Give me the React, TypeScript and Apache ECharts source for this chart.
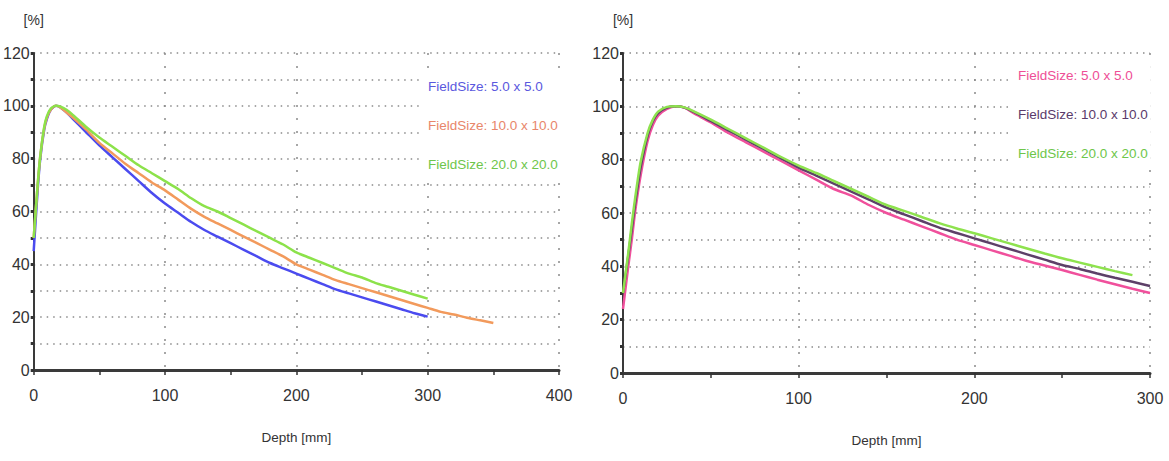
import React, { useEffect, useRef } from "react";
import * as echarts from "echarts";

// ---------- Left chart (depth in mm, dose in %) ----------
const depthL5 = [0, 3, 5, 8, 10, 13, 17, 20, 25, 30, 40, 50, 60, 70, 80, 90, 100, 110, 120, 130, 140, 150, 160, 170, 180, 190, 200, 210, 220, 230, 240, 250, 260, 270, 280, 290, 300];
const doseL5 = [45, 68, 80, 91, 95, 98.5, 100, 99.5, 97.5, 95, 90, 85, 80.5, 76, 71.5, 67, 63, 59.5, 56, 53, 50.5, 48, 45.5, 43, 40.5, 38.5, 36.5, 34.5, 32.5, 30.5, 29, 27.5, 26, 24.5, 23, 21.5, 20.2];

const depthL10 = [0, 3, 5, 8, 10, 13, 17, 20, 25, 30, 40, 50, 60, 70, 80, 90, 100, 110, 120, 130, 140, 150, 160, 170, 180, 190, 200, 210, 220, 230, 240, 250, 260, 270, 280, 290, 300, 310, 320, 330, 340, 350];
const doseL10 = [50, 70, 81, 91.5, 95.5, 98.5, 100, 99.5, 97.5, 95.5, 91, 86, 82, 78, 74.5, 71, 68, 64.5, 61, 58, 55.5, 53, 50.5, 48, 45.5, 43, 40, 38, 36, 34, 32.5, 31, 29.5, 28, 26.5, 25, 23.5, 22, 21, 19.8, 18.8, 17.8];

const depthL20 = [0, 3, 5, 8, 10, 13, 17, 20, 25, 30, 40, 50, 60, 70, 80, 90, 100, 110, 120, 130, 140, 150, 160, 170, 180, 190, 200, 210, 220, 230, 240, 250, 260, 270, 280, 290, 300];
const doseL20 = [50, 70, 81, 92, 96, 99, 100, 99.8, 98.5, 96.5, 92, 88, 84.5, 81, 77.5, 74.5, 71.5, 68.5, 65, 62, 60, 57.5, 55, 52.5, 50, 47.5, 44.5, 42.5, 40.5, 38.5, 36.5, 35, 33, 31.5, 30, 28.5, 27];

// ---------- Right chart ----------
const depthR5 = [0, 3, 5, 7, 10, 14, 17, 20, 25, 30, 35, 40, 50, 60, 70, 80, 90, 100, 110, 120, 130, 140, 150, 160, 170, 180, 190, 200, 210, 220, 230, 240, 250, 260, 270, 280, 290, 300];
const doseR5 = [24, 40, 50, 61, 74, 87, 93, 96.5, 99, 100, 99.5, 97.5, 94, 90, 86.5, 83, 79.5, 76, 72.5, 69, 66.5, 63, 60, 57.5, 55, 52.5, 50, 48, 46, 44, 42, 40.3, 38.6, 36.8, 35, 33.3, 31.6, 30];

const depthR10 = [0, 3, 5, 7, 10, 14, 17, 20, 25, 30, 35, 40, 50, 60, 70, 80, 90, 100, 110, 120, 130, 140, 150, 160, 170, 180, 190, 200, 210, 220, 230, 240, 250, 260, 270, 280, 290, 300];
const doseR10 = [30, 44, 54, 64, 77, 89, 94.5, 97.5, 99.5, 100, 99.5, 98, 94.5, 91, 87.5, 84, 80.5, 77, 74, 71, 68, 65, 62, 59.5, 57, 54.5, 52.5, 50.5, 48.5, 46.5, 44.5, 42.5, 40.5, 39, 37.3, 35.7, 34.2, 32.6];

const depthR20 = [0, 3, 5, 7, 10, 14, 17, 20, 25, 30, 35, 40, 50, 60, 70, 80, 90, 100, 110, 120, 130, 140, 150, 160, 170, 180, 190, 200, 210, 220, 230, 240, 250, 260, 270, 280, 290];
const doseR20 = [30, 45, 56, 66, 79, 90, 95, 98, 99.8, 100, 99.6, 98.2, 95, 91.5, 88, 84.5, 81, 77.8, 75, 72, 69, 66, 63, 60.8, 58.5, 56.2, 54.2, 52.4, 50.5, 48.6, 46.7, 44.8, 43, 41.4, 39.8, 38.2, 36.7];

const namesL = ["FieldSize: 5.0 x 5.0", "FieldSize: 10.0 x 10.0", "FieldSize: 20.0 x 20.0"];
const lineColorsL = ["#4b4bef", "#f29a5c", "#8ce24a"];
const textColorsL = ["#5a58de", "#e8866a", "#6ec64a"];
const lineColorsR = ["#f0509c", "#5d4068", "#8ee24e"];
const textColorsR = ["#ee4e96", "#5a3a6a", "#6ec64a"];

const FONT = "'Liberation Sans', Arial, sans-serif";

const zip = (d: number[], v: number[]) => d.map((x, i) => [x, v[i]]);

export default function App() {
  const ref = useRef<HTMLDivElement>(null);
  useEffect(() => {
    if (!ref.current) return;
    const chart = echarts.init(ref.current, undefined, { renderer: "svg" });
    const dotted = { color: "#8a8a8a", width: 1.5, type: [1.5, 5] as any };
    const vDotted = { color: "#8a8a8a", width: 1.5, type: [2, 11] as any };
    const mkX = (gi: number, max: number) => ({
      type: "value",
      gridIndex: gi,
      min: 0,
      max,
      interval: 100,
      name: "Depth [mm]",
      nameLocation: "middle",
      nameGap: 60,
      nameTextStyle: { fontFamily: FONT, fontSize: 13.5, color: "#333", verticalAlign: "top" },
      axisLine: { show: true, lineStyle: { color: "#3a3a3a", width: 3 } },
      axisTick: { show: true, length: 5, lineStyle: { color: "#333", width: 1.5 } },
      minorTick: { show: true, splitNumber: 2, length: 5, lineStyle: { color: "#333", width: 1.5 } },
      axisLabel: { fontFamily: FONT, fontSize: 16, color: "#333", margin: 17 },
      splitLine: { show: true, lineStyle: vDotted },
      minorSplitLine: { show: false },
    });
    const mkY = (gi: number) => ({
      type: "value",
      gridIndex: gi,
      min: 0,
      max: 120,
      interval: 20,
      name: "[%]",
      nameLocation: "end",
      nameGap: 26,
      nameTextStyle: { fontFamily: FONT, fontSize: 14, color: "#333", align: "center" },
      axisLine: { show: true, onZero: false, lineStyle: { color: "#3a3a3a", width: 2 } },
      axisTick: { show: true, length: 3, lineStyle: { color: "#333", width: 3 } },
      minorTick: { show: true, splitNumber: 2, length: 3, lineStyle: { color: "#333", width: 3 } },
      axisLabel: { fontFamily: FONT, fontSize: 16, color: "#333", margin: 4 },
      splitLine: { show: true, lineStyle: dotted },
      minorSplitLine: { show: true, lineStyle: dotted },
    });
    const mkSeries = (name: string, gi: number, d: number[], v: number[], color: string) => ({
      type: "line",
      name,
      xAxisIndex: gi,
      yAxisIndex: gi,
      data: zip(d, v),
      showSymbol: false,
      smooth: 0.25,
      lineStyle: { color, width: 2.5 },
      itemStyle: { color },
    });
    const mkLegend = (left: number, top: number, colors: string[]) => ({
      orient: "vertical",
      left,
      top,
      itemGap: 25,
      itemWidth: 0,
      itemHeight: 0,
      icon: "none",
      selectedMode: false,
      backgroundColor: "#ffffff",
      padding: [2, 3, 2, 0],
      data: namesL.map((n, i) => ({
        name: n,
        icon: "none",
        textStyle: { color: colors[i], fontFamily: FONT, fontSize: 13.5 },
      })),
    });
    chart.setOption({
      animation: false,
      backgroundColor: "#ffffff",
      grid: [
        { left: 31, top: 53, width: 528, height: 317 },
        { left: 623, top: 53, width: 527, height: 320 },
      ],
      xAxis: [mkX(0, 400), mkX(1, 300)],
      yAxis: [mkY(0), mkY(1)],
      legend: [mkLegend(423, 77, textColorsL), mkLegend(1013, 66, textColorsR)],
      series: [
        mkSeries(namesL[0], 0, depthL5, doseL5, lineColorsL[0]),
        mkSeries(namesL[1], 0, depthL10, doseL10, lineColorsL[1]),
        mkSeries(namesL[2], 0, depthL20, doseL20, lineColorsL[2]),
        mkSeries(namesL[0], 1, depthR5, doseR5, lineColorsR[0]),
        mkSeries(namesL[1], 1, depthR10, doseR10, lineColorsR[1]),
        mkSeries(namesL[2], 1, depthR20, doseR20, lineColorsR[2]),
      ],
    });
    return () => chart.dispose();
  }, []);
  return (
    <div
      ref={ref}
      style={{ position: "fixed", left: 0, top: 0, width: 1169, height: 461, background: "#fff" }}
    />
  );
}
